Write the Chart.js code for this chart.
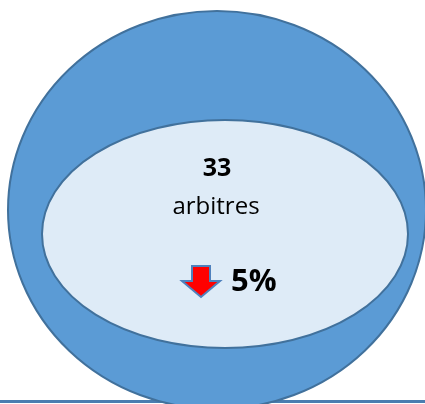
<!DOCTYPE html>
<html>
<head>
<meta charset="utf-8">
<script src="https://cdn.jsdelivr.net/npm/chart.js@4"></script>
<style>
  html, body { margin: 0; padding: 0; background: #fff; }
  canvas { display: block; }
</style>
</head>
<body>
<canvas id="kpiChart" width="425" height="404"></canvas>
<script>
// data
var categories = ['arbitres'];
var counts = [33];
var changes = [-5]; // percent vs previous season

var outerFill = '#5B9BD5';
var innerFill = '#DEEBF7';
var edge = '#41719C';

// draw the bottom rule + two ellipses, in scale units
var bubblePlugin = {
  id: 'bubbles',
  beforeDatasetsDraw: function (chart) {
    var c = chart.ctx;
    var x = chart.scales.x, y = chart.scales.y;
    var px = function (v) { return x.getPixelForValue(v); };
    var py = function (v) { return y.getPixelForValue(v); };

    c.save();
    // baseline rule (sits behind the big ellipse)
    c.beginPath();
    c.lineWidth = 3;
    c.strokeStyle = '#4A7DB0';
    c.moveTo(0, py(401.5));
    c.lineTo(chart.width, py(401.5));
    c.stroke();

    c.lineWidth = 2;
    c.strokeStyle = edge;

    // outer
    c.beginPath();
    c.ellipse(px(217), py(210), px(209) - px(0), py(199) - py(0), 0, 0, Math.PI * 2);
    c.fillStyle = outerFill;
    c.fill();
    c.stroke();

    // inner
    c.beginPath();
    c.ellipse(px(225), py(234), px(183) - px(0), py(114) - py(0), 0, 0, Math.PI * 2);
    c.fillStyle = innerFill;
    c.fill();
    c.stroke();
    c.restore();
  },
  afterDatasetsDraw: function (chart) {
    var c = chart.ctx;
    var x = chart.scales.x, y = chart.scales.y;
    var px = function (v) { return x.getPixelForValue(v); };
    var py = function (v) { return y.getPixelForValue(v); };

    c.save();
    c.fillStyle = '#000';
    c.textAlign = 'center';
    c.textBaseline = 'alphabetic';
    c.font = 'bold 25px "Open Sans"';
    c.fillText(String(counts[0]), px(217), py(176));
    c.font = '24px "Open Sans"';
    c.fillText(categories[0], px(216), py(214));

    // down arrow
    var ax = px(201);
    c.beginPath();
    c.moveTo(ax - 9, py(266));
    c.lineTo(ax + 9, py(266));
    c.lineTo(ax + 9, py(281));
    c.lineTo(ax + 19, py(281));
    c.lineTo(ax, py(297));
    c.lineTo(ax - 19, py(281));
    c.lineTo(ax - 9, py(281));
    c.closePath();
    c.fillStyle = changes[0] < 0 ? '#FF0000' : '#00B050';
    c.fill();
    c.lineWidth = 2;
    c.strokeStyle = '#4F81BD';
    c.stroke();

    c.fillStyle = '#000';
    c.textAlign = 'left';
    c.font = 'bold 31px "Open Sans"';
    c.fillText(Math.abs(changes[0]) + '%', px(231), py(291));
    c.restore();
  }
};

var ctx = document.getElementById('kpiChart').getContext('2d');
var kpiChart = new Chart(ctx, {
  type: 'scatter',
  data: {
    labels: categories,
    datasets: [{
      label: categories[0],
      data: [],
      pointRadius: 0
    }]
  },
  options: {
    responsive: false,
    animation: false,
    layout: { padding: 0 },
    plugins: {
      legend: { display: false },
      tooltip: { enabled: false }
    },
    scales: {
      x: { type: 'linear', min: 0, max: 425, display: false },
      y: { type: 'linear', min: 0, max: 404, reverse: true, display: false }
    }
  },
  plugins: [bubblePlugin]
});
</script>
</body>
</html>
